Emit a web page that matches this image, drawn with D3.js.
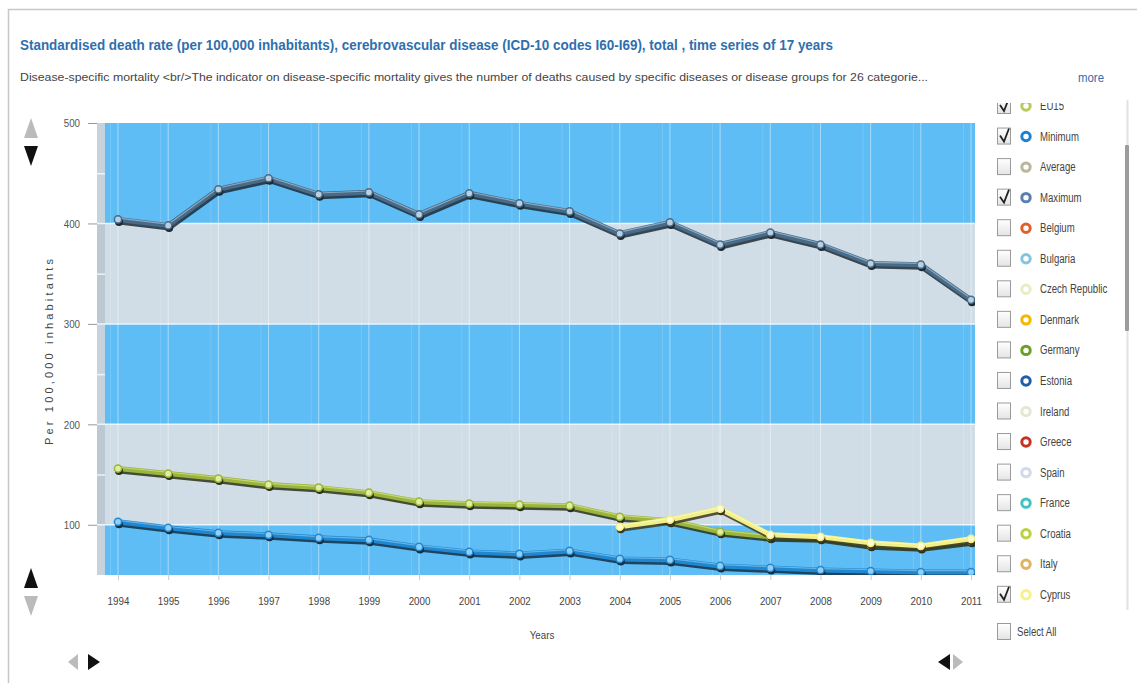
<!DOCTYPE html>
<html>
<head>
<meta charset="utf-8">
<script src="https://cdn.jsdelivr.net/npm/d3@7/dist/d3.min.js"></script>
<style>
  html, body { margin: 0; padding: 0; background: #fff; }
  svg { display: block; }
  text { font-family: "Liberation Sans Narrow", "Arial Narrow", "Liberation Sans", Arial, sans-serif; }
</style>
</head>
<body>
<svg id="chart" width="1137" height="683"></svg>
<script>
// ---------- DATA ----------
const titleText = "Standardised death rate (per 100,000 inhabitants), cerebrovascular disease (ICD-10 codes I60-I69), total , time series of 17 years";
const subtitleText = "Disease-specific mortality <br/>The indicator on disease-specific mortality gives the number of deaths caused by specific diseases or disease groups for 26 categorie...";
const years = [1994,1995,1996,1997,1998,1999,2000,2001,2002,2003,2004,2005,2006,2007,2008,2009,2010,2011];
const maximumValues = [404,398,434,445,429,431,409,430,420,412,390,401,379,391,379,360,359,324];
const minimumValues = [103,97,92,90,87,85,78,73,71,74,66,65,59,57,55,54,53,53];
const euValues = [156,151,146,140,137,132,123,121,120,119,108,104,93,88,87,80,78,84];
const cyprusValues = [null,null,null,null,null,null,null,null,null,null,98,105,116,90,88,82,79,86];
const yTicks = [100,200,300,400,500];
const yMinorTicks = [150,250,350,450];
const legendNames = ["EU15","Minimum","Average","Maximum","Belgium","Bulgaria","Czech Republic","Denmark","Germany","Estonia","Ireland","Greece","Spain","France","Croatia","Italy","Cyprus"];
const legendColors = ["#b9c95a","#1f80cc","#b9b89c","#5b7fae","#e0602c","#80c6e2","#e6efc4","#f4b800","#6aa024","#1e5ea8","#e2e9d2","#c83222","#d2d9e9","#44c2c2","#bad242","#e0b264","#f8f08a"];
const legendChecked = [true,true,false,true,false,false,false,false,false,false,false,false,false,false,false,false,true];

// ---------- SETUP ----------
const svg = d3.select("#chart");
const plot = {left: 97, right: 975, top: 123, bottom: 575};
const x = d3.scaleLinear().domain([1994, 2011]).range([118, 971]);
const y = d3.scaleLinear().domain([50, 500]).range([plot.bottom, plot.top]);

function condense(sel, factor) {
  sel.each(function() {
    const len = this.getComputedTextLength();
    d3.select(this).attr("textLength", len * factor).attr("lengthAdjust", "spacingAndGlyphs");
  });
}

// outer frame
svg.append("rect").attr("x", 8.5).attr("y", 9.5).attr("width", 1140).attr("height", 690)
  .attr("fill", "none").attr("stroke", "#c8c8c8").attr("stroke-width", 1.5);

// title
svg.append("text").attr("x", 20).attr("y", 50).text(titleText)
  .attr("font-size", 14).attr("font-weight", "bold").attr("fill", "#2f6fae")
  .attr("textLength", 813).attr("lengthAdjust", "spacingAndGlyphs");
svg.append("text").attr("x", 20).attr("y", 81).text(subtitleText)
  .attr("font-size", 11.5).attr("fill", "#444")
  .attr("textLength", 908).attr("lengthAdjust", "spacingAndGlyphs");
svg.append("text").attr("x", 1078).attr("y", 82).text("more")
  .attr("font-size", 12).attr("fill", "#2f6fae")
  .attr("textLength", 26).attr("lengthAdjust", "spacingAndGlyphs");

// ---------- PLOT BACKGROUND ----------
const defs = svg.append("defs");
defs.append("clipPath").attr("id", "plotClip").append("rect")
  .attr("x", plot.left).attr("y", plot.top).attr("width", plot.right - plot.left).attr("height", plot.bottom - plot.top);

const bands = [[400,500,"#5fbdf5"],[300,400,"#d0dde6"],[200,300,"#5fbdf5"],[100,200,"#d0dde6"],[50,100,"#5fbdf5"]];
const bg = svg.append("g");
bands.forEach(b => {
  bg.append("rect").attr("x", plot.left).attr("y", y(b[1])).attr("width", plot.right - plot.left)
    .attr("height", y(b[0]) - y(b[1])).attr("fill", b[2]);
});
bands.forEach(b => {
  bg.append("rect").attr("x", plot.left).attr("y", y(b[1])).attr("width", 8)
    .attr("height", y(b[0]) - y(b[1])).attr("fill", b[2] === "#5fbdf5" ? "#c6d2dc" : "#bcc8d2");
});
[100,200,300,400].forEach(v => {
  bg.append("line").attr("x1", plot.left).attr("x2", plot.right).attr("y1", y(v)).attr("y2", y(v))
    .attr("stroke", "#eaf6ff").attr("stroke-width", 1.5);
});
years.forEach(yr => {
  bg.append("line").attr("x1", x(yr)).attr("x2", x(yr)).attr("y1", plot.top).attr("y2", plot.bottom)
    .attr("stroke", "#ffffff").attr("stroke-opacity", 0.45).attr("stroke-width", 1);
  bg.append("line").attr("x1", x(yr) - 7.5).attr("x2", x(yr) - 7.5).attr("y1", plot.top).attr("y2", plot.bottom)
    .attr("stroke", "#ffffff").attr("stroke-opacity", 0.15).attr("stroke-width", 1);
});

// ---------- AXES ----------
const yAxis = d3.axisLeft(y).tickValues(yTicks).tickSize(9).tickPadding(8);
const gy = svg.append("g").attr("transform", `translate(${plot.left},0)`).call(yAxis);
gy.select(".domain").remove();
gy.selectAll(".tick line").attr("stroke", "#999");
gy.selectAll(".tick text").attr("font-size", 11.5).attr("fill", "#555");
condense(gy.selectAll(".tick text"), 0.85);
const gyMinor = svg.append("g").attr("transform", `translate(${plot.left},0)`)
  .call(d3.axisRight(y).tickValues(yMinorTicks).tickSize(8).tickFormat(""));
gyMinor.select(".domain").remove();
gyMinor.selectAll(".tick line").attr("stroke", "#eef4f8").attr("stroke-width", 1.5);

const xAxis = d3.axisBottom(x).tickValues(years).tickFormat(d3.format("d")).tickSize(5).tickPadding(17);
const gx = svg.append("g").attr("transform", `translate(0,${plot.bottom})`).call(xAxis);
gx.select(".domain").remove();
gx.selectAll(".tick line").attr("stroke", "#ccc");
gx.selectAll(".tick text").attr("font-size", 11.5).attr("fill", "#444");
condense(gx.selectAll(".tick text"), 0.85);

const yearsLbl = svg.append("text").attr("x", 542).attr("y", 639).attr("text-anchor", "middle").text("Years")
  .attr("font-size", 11.5).attr("fill", "#444");
condense(yearsLbl, 0.85);
svg.append("text").attr("transform", "translate(53,352) rotate(-90)").attr("text-anchor", "middle")
  .text("Per 100,000 inhabitants").attr("font-size", 11).attr("fill", "#444")
  .attr("font-family", "'Liberation Sans', Arial, sans-serif")
  .attr("textLength", 186).attr("lengthAdjust", "spacing");

// ---------- SERIES ----------
const lines = svg.append("g").attr("clip-path", "url(#plotClip)");
const lineGen = d3.line().defined(d => d.v !== null).x(d => x(d.year)).y(d => y(d.v));
function drawSeries(values, color, light, shadow) {
  const data = years.map((yr, i) => ({year: yr, v: values[i]}));
  const g = lines.append("g");
  g.append("path").datum(data).attr("d", lineGen).attr("fill", "none")
    .attr("stroke", shadow).attr("stroke-width", 5).attr("transform", "translate(1,2.5)")
    .attr("stroke-linejoin", "round").attr("opacity", 0.85);
  g.append("path").datum(data).attr("d", lineGen).attr("fill", "none")
    .attr("stroke", color).attr("stroke-width", 5).attr("stroke-linejoin", "round");
  g.append("path").datum(data).attr("d", lineGen).attr("fill", "none")
    .attr("stroke", light).attr("stroke-width", 1.2).attr("transform", "translate(0,-1.3)")
    .attr("stroke-linejoin", "round").attr("opacity", 0.6);
  const pts = data.filter(d => d.v !== null);
  g.selectAll("circle.s").data(pts).enter().append("circle")
    .attr("cx", d => x(d.year) + 1).attr("cy", d => y(d.v) + 2.5).attr("r", 4).attr("fill", shadow);
  g.selectAll("circle.m").data(pts).enter().append("circle")
    .attr("cx", d => x(d.year)).attr("cy", d => y(d.v)).attr("r", 3.6)
    .attr("fill", light).attr("stroke", color).attr("stroke-width", 1.5);
}
drawSeries(maximumValues, "#476b88", "#b9d0e2", "#1d2b36");
drawSeries(minimumValues, "#2188d0", "#8fd0f8", "#123048");
drawSeries(euValues, "#9ab43c", "#dfeea0", "#2a3218");
drawSeries(cyprusValues, "#f2ef86", "#fffcd0", "#3a3820");

// ---------- NAV ARROWS ----------
function tri(points, fill) {
  svg.append("path").attr("d", "M" + points.map(p => p.join(",")).join("L") + "Z").attr("fill", fill);
}
tri([[31,118],[24,138],[38,138]], "#bbb");
tri([[24,146],[38,146],[31,166]], "#111");
tri([[31,568],[24,588],[38,588]], "#111");
tri([[24,596],[38,596],[31,616]], "#bbb");
tri([[78,654],[78,670],[68,662]], "#bbb");
tri([[88,654],[88,670],[100,662]], "#111");
tri([[950,654],[950,670],[938,662]], "#111");
tri([[953,654],[953,670],[963,662]], "#bbb");

// ---------- LEGEND ----------
defs.append("clipPath").attr("id", "legClip").append("rect")
  .attr("x", 985).attr("y", 103).attr("width", 140).attr("height", 508);
const leg = svg.append("g").attr("clip-path", "url(#legClip)");
const grad = defs.append("linearGradient").attr("id", "boxGrad").attr("x1", 0).attr("y1", 0).attr("x2", 0).attr("y2", 1);
grad.append("stop").attr("offset", "0%").attr("stop-color", "#ffffff");
grad.append("stop").attr("offset", "100%").attr("stop-color", "#e4e4e4");
function checkbox(g, cy, checked) {
  g.append("rect").attr("x", 997.5).attr("y", cy - 8.5).attr("width", 13).attr("height", 16)
    .attr("fill", "url(#boxGrad)").attr("stroke", "#9a9a9a").attr("stroke-width", 1);
  if (checked) {
    g.append("path").attr("d", `M1000,${cy-1} L1004,${cy+5} L1009,${cy-8}`)
      .attr("fill", "none").attr("stroke", "#222").attr("stroke-width", 1.8);
  }
}
legendNames.forEach((name, i) => {
  const cy = 106 + i * 30.55;
  const g = leg.append("g");
  checkbox(g, cy, legendChecked[i]);
  g.append("circle").attr("cx", 1026).attr("cy", cy).attr("r", 4.2)
    .attr("fill", "#fff").attr("stroke", legendColors[i]).attr("stroke-width", 3);
  const t = g.append("text").attr("x", 1040).attr("y", cy + 4).text(name)
    .attr("font-size", 12).attr("fill", "#444");
  condense(t, 0.8);
});
const sa = svg.append("g");
checkbox(sa, 632, false);
const saT = sa.append("text").attr("x", 1017).attr("y", 636).text("Select All").attr("font-size", 12).attr("fill", "#444");
condense(saT, 0.8);

// scrollbar
svg.append("line").attr("x1", 1127.5).attr("x2", 1127.5).attr("y1", 100).attr("y2", 610)
  .attr("stroke", "#e2e2e2").attr("stroke-width", 2);
svg.append("rect").attr("x", 1125).attr("y", 145).attr("width", 4).attr("height", 186)
  .attr("fill", "#9c9c9c").attr("rx", 1);
</script>
</body>
</html>
